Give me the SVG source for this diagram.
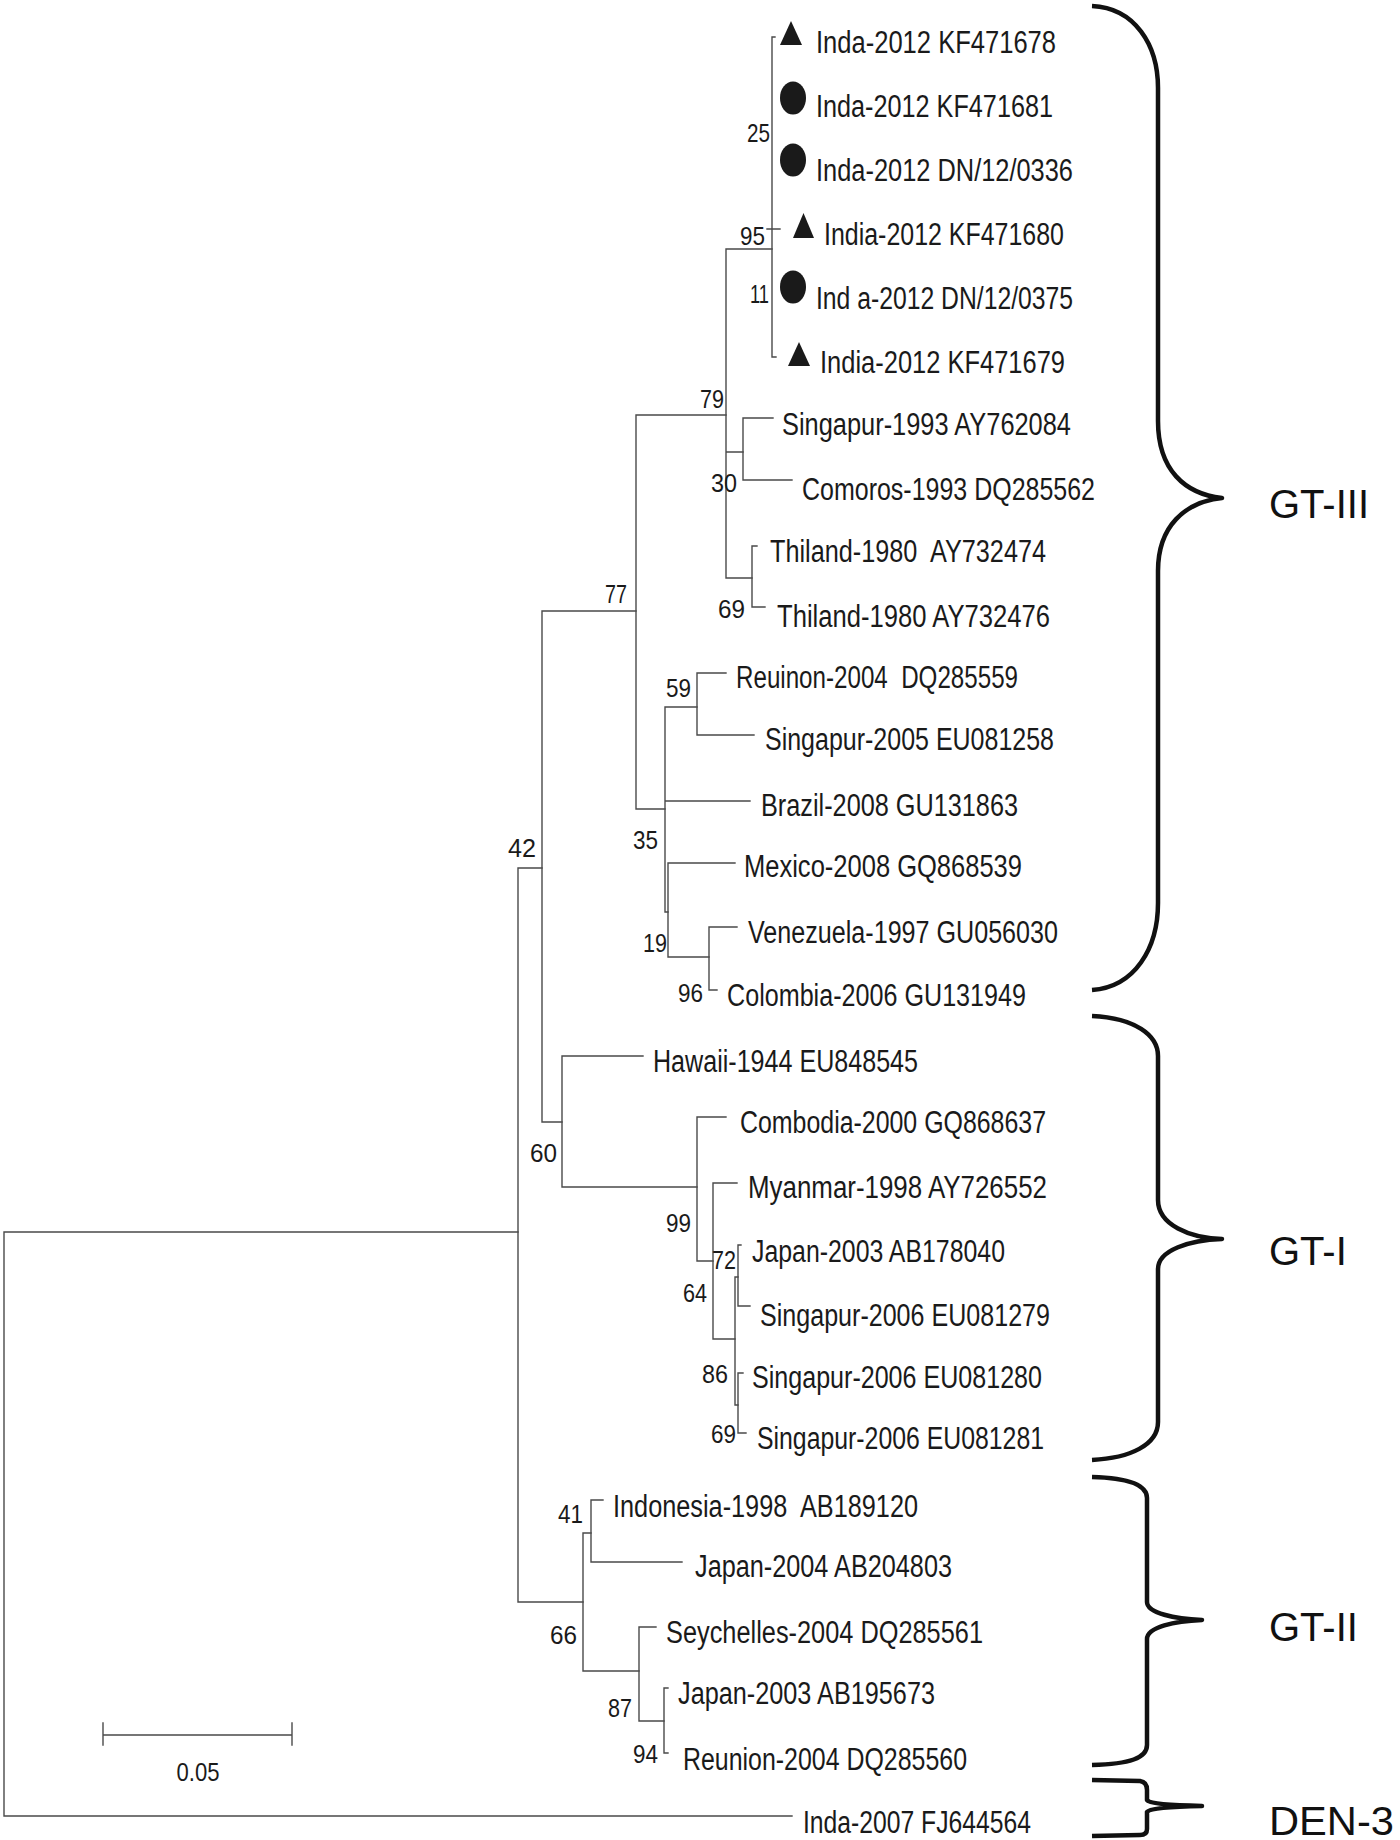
<svg xmlns="http://www.w3.org/2000/svg" width="1400" height="1840" viewBox="0 0 1400 1840">
<defs>
<style>
.br{stroke:#4a4a4a;stroke-width:1.4;fill:none;stroke-linecap:square}
.lbl{font-family:"Liberation Sans",Arial,sans-serif;font-size:31px;fill:#1a1a1a}
.bs{font-family:"Liberation Sans",Arial,sans-serif;font-size:25px;fill:#1a1a1a}
.gt{font-family:"Liberation Sans",Arial,sans-serif;font-size:40px;fill:#111}
.brace{stroke:#111;stroke-width:4.5;fill:none;stroke-linejoin:round}
.mk{fill:#1a1a1a}
</style>
</defs>
<rect width="1400" height="1840" fill="#fff"/>
<g id="connectors" class="br">
<path d="M4,1232 V1816 M4,1232 H518 M4,1816 H792"/>
<path d="M518,868 V1602 M518,868 H542 M518,1602 H583"/>
<path d="M542,611 V1122 M542,611 H636 M542,1122 H562"/>
<path d="M636,415 V809 M636,415 H726 M636,809 H665"/>
<path d="M726,249 V578 M726,249 H772 M726,452 H743 M726,578 H752"/>
<path d="M772,37 V357 M772,37 H775 M767,229 H780 M772,357 H776"/>
<path d="M743,418 V480 M743,418 H773 M743,480 H792"/>
<path d="M752,546 V607 M752,546 H757 M752,607 H765"/>
<path d="M665,707 V912 M665,707 H697 M665,801 H750 M665,912 H668"/>
<path d="M697,673 V735 M697,673 H726 M697,735 H754"/>
<path d="M668,863 V957 M668,863 H735 M668,957 H709"/>
<path d="M709,927 V990 M709,927 H737 M709,990 H717"/>
<path d="M562,1056 V1187 M562,1056 H643 M562,1187 H697"/>
<path d="M697,1117 V1261 M697,1117 H726 M697,1261 H713"/>
<path d="M713,1183 V1339 M713,1183 H737 M713,1339 H735"/>
<path d="M735,1277 V1405 M735,1277 H738 M735,1405 H738"/>
<path d="M738,1245 V1306 M738,1245 H741 M738,1306 H750"/>
<path d="M738,1373 V1433 M738,1373 H743 M738,1433 H746"/>
<path d="M583,1533 V1671 M583,1533 H591 M583,1671 H639"/>
<path d="M591,1500 V1562 M591,1500 H603 M591,1562 H682"/>
<path d="M639,1627 V1721 M639,1627 H656 M639,1721 H664"/>
<path d="M664,1688 V1753 M664,1688 H668 M664,1753 H668"/>
</g>
<g id="bootstrap">
<text class="bs" x="747" y="142" textLength="23" lengthAdjust="spacingAndGlyphs">25</text>
<text class="bs" x="740" y="245" textLength="25" lengthAdjust="spacingAndGlyphs">95</text>
<text class="bs" x="750" y="303" textLength="19" lengthAdjust="spacingAndGlyphs">11</text>
<text class="bs" x="700" y="408" textLength="24" lengthAdjust="spacingAndGlyphs">79</text>
<text class="bs" x="711" y="492" textLength="26" lengthAdjust="spacingAndGlyphs">30</text>
<text class="bs" x="718" y="618" textLength="27" lengthAdjust="spacingAndGlyphs">69</text>
<text class="bs" x="605" y="603" textLength="22" lengthAdjust="spacingAndGlyphs">77</text>
<text class="bs" x="666" y="697" textLength="25" lengthAdjust="spacingAndGlyphs">59</text>
<text class="bs" x="633" y="849" textLength="25" lengthAdjust="spacingAndGlyphs">35</text>
<text class="bs" x="508" y="857" textLength="28" lengthAdjust="spacingAndGlyphs">42</text>
<text class="bs" x="643" y="952" textLength="24" lengthAdjust="spacingAndGlyphs">19</text>
<text class="bs" x="678" y="1002" textLength="25" lengthAdjust="spacingAndGlyphs">96</text>
<text class="bs" x="530" y="1162" textLength="27" lengthAdjust="spacingAndGlyphs">60</text>
<text class="bs" x="666" y="1232" textLength="25" lengthAdjust="spacingAndGlyphs">99</text>
<text class="bs" x="712" y="1269" textLength="24" lengthAdjust="spacingAndGlyphs">72</text>
<text class="bs" x="683" y="1302" textLength="24" lengthAdjust="spacingAndGlyphs">64</text>
<text class="bs" x="702" y="1383" textLength="26" lengthAdjust="spacingAndGlyphs">86</text>
<text class="bs" x="711" y="1443" textLength="25" lengthAdjust="spacingAndGlyphs">69</text>
<text class="bs" x="558" y="1523" textLength="25" lengthAdjust="spacingAndGlyphs">41</text>
<text class="bs" x="550" y="1644" textLength="27" lengthAdjust="spacingAndGlyphs">66</text>
<text class="bs" x="608" y="1717" textLength="24" lengthAdjust="spacingAndGlyphs">87</text>
<text class="bs" x="633" y="1763" textLength="25" lengthAdjust="spacingAndGlyphs">94</text>
</g>
<g id="leaf-01"><polygon class="mk" points="791,21 802,45 780,45"/><text class="lbl" x="816" y="53" textLength="240" lengthAdjust="spacingAndGlyphs">Inda-2012 KF471678</text></g>
<g id="leaf-02"><ellipse class="mk" cx="793" cy="98" rx="13" ry="16.5"/><text class="lbl" x="816" y="117" textLength="237" lengthAdjust="spacingAndGlyphs">Inda-2012 KF471681</text></g>
<g id="leaf-03"><ellipse class="mk" cx="793" cy="160" rx="13" ry="16.5"/><text class="lbl" x="816" y="181" textLength="257" lengthAdjust="spacingAndGlyphs">Inda-2012 DN/12/0336</text></g>
<g id="leaf-04"><polygon class="mk" points="803.5,213 814,238 793,238"/><text class="lbl" x="824" y="245" textLength="240" lengthAdjust="spacingAndGlyphs">India-2012 KF471680</text></g>
<g id="leaf-05"><ellipse class="mk" cx="793" cy="287" rx="13" ry="16.5"/><text class="lbl" x="816" y="309" textLength="257" lengthAdjust="spacingAndGlyphs">Ind a-2012 DN/12/0375</text></g>
<g id="leaf-06"><polygon class="mk" points="799,342 810,366 788,366"/><text class="lbl" x="820" y="373" textLength="245" lengthAdjust="spacingAndGlyphs">India-2012 KF471679</text></g>
<g id="leaf-07"><text class="lbl" x="782" y="435" textLength="289" lengthAdjust="spacingAndGlyphs">Singapur-1993 AY762084</text></g>
<g id="leaf-08"><text class="lbl" x="802" y="500" textLength="293" lengthAdjust="spacingAndGlyphs">Comoros-1993 DQ285562</text></g>
<g id="leaf-09"><text class="lbl" x="770" y="562" textLength="276" lengthAdjust="spacingAndGlyphs" xml:space="preserve">Thiland-1980  AY732474</text></g>
<g id="leaf-10"><text class="lbl" x="777" y="627" textLength="273" lengthAdjust="spacingAndGlyphs">Thiland-1980 AY732476</text></g>
<g id="leaf-11"><text class="lbl" x="736" y="688" textLength="282" lengthAdjust="spacingAndGlyphs" xml:space="preserve">Reuinon-2004  DQ285559</text></g>
<g id="leaf-12"><text class="lbl" x="765" y="750" textLength="289" lengthAdjust="spacingAndGlyphs">Singapur-2005 EU081258</text></g>
<g id="leaf-13"><text class="lbl" x="761" y="816" textLength="257" lengthAdjust="spacingAndGlyphs">Brazil-2008 GU131863</text></g>
<g id="leaf-14"><text class="lbl" x="744" y="877" textLength="278" lengthAdjust="spacingAndGlyphs">Mexico-2008 GQ868539</text></g>
<g id="leaf-15"><text class="lbl" x="748" y="943" textLength="310" lengthAdjust="spacingAndGlyphs">Venezuela-1997 GU056030</text></g>
<g id="leaf-16"><text class="lbl" x="727" y="1006" textLength="299" lengthAdjust="spacingAndGlyphs">Colombia-2006 GU131949</text></g>
<g id="leaf-17"><text class="lbl" x="653" y="1072" textLength="265" lengthAdjust="spacingAndGlyphs">Hawaii-1944 EU848545</text></g>
<g id="leaf-18"><text class="lbl" x="740" y="1133" textLength="306" lengthAdjust="spacingAndGlyphs">Combodia-2000 GQ868637</text></g>
<g id="leaf-19"><text class="lbl" x="748" y="1198" textLength="299" lengthAdjust="spacingAndGlyphs">Myanmar-1998 AY726552</text></g>
<g id="leaf-20"><text class="lbl" x="752" y="1262" textLength="253" lengthAdjust="spacingAndGlyphs">Japan-2003 AB178040</text></g>
<g id="leaf-21"><text class="lbl" x="760" y="1326" textLength="290" lengthAdjust="spacingAndGlyphs">Singapur-2006 EU081279</text></g>
<g id="leaf-22"><text class="lbl" x="752" y="1388" textLength="290" lengthAdjust="spacingAndGlyphs">Singapur-2006 EU081280</text></g>
<g id="leaf-23"><text class="lbl" x="757" y="1449" textLength="287" lengthAdjust="spacingAndGlyphs">Singapur-2006 EU081281</text></g>
<g id="leaf-24"><text class="lbl" x="613" y="1517" textLength="305" lengthAdjust="spacingAndGlyphs" xml:space="preserve">Indonesia-1998  AB189120</text></g>
<g id="leaf-25"><text class="lbl" x="695" y="1577" textLength="257" lengthAdjust="spacingAndGlyphs">Japan-2004 AB204803</text></g>
<g id="leaf-26"><text class="lbl" x="666" y="1643" textLength="317" lengthAdjust="spacingAndGlyphs">Seychelles-2004 DQ285561</text></g>
<g id="leaf-27"><text class="lbl" x="678" y="1704" textLength="257" lengthAdjust="spacingAndGlyphs">Japan-2003 AB195673</text></g>
<g id="leaf-28"><text class="lbl" x="683" y="1770" textLength="284" lengthAdjust="spacingAndGlyphs">Reunion-2004 DQ285560</text></g>
<g id="leaf-29"><text class="lbl" x="803" y="1833" textLength="228" lengthAdjust="spacingAndGlyphs">Inda-2007 FJ644564</text></g>
<g id="scale-bar">
<path class="br" d="M103,1735 H292 M103,1723 V1745 M292,1723 V1745"/>
<text class="bs" x="198" y="1781" text-anchor="middle" textLength="43" lengthAdjust="spacingAndGlyphs" style="font-size:26px">0.05</text>
</g>
<g id="group-GT-III">
<path class="brace" d="M1092,6 C1135,8 1158,45 1158,88 L1158,421 C1158,470 1185,494 1222,498 C1185,502 1158,526 1158,571 L1158,903 C1158,948 1135,987 1092,990"/>
<text class="gt" x="1269" y="518">GT-III</text>
</g>
<g id="group-GT-I">
<path class="brace" d="M1092,1016 C1135,1018 1158,1035 1158,1056 L1158,1200 C1158,1225 1190,1238 1222,1239 C1190,1240 1158,1250 1158,1269 L1158,1422 C1158,1445 1130,1458 1092,1460"/>
<text class="gt" x="1269" y="1265">GT-I</text>
</g>
<g id="group-GT-II">
<path class="brace" d="M1092,1477 C1130,1478 1147,1485 1147,1498 L1147,1602 C1147,1613 1175,1619 1202,1620 C1175,1621 1147,1627 1147,1639 L1147,1745 C1147,1758 1130,1764 1092,1765"/>
<text class="gt" x="1269" y="1641">GT-II</text>
</g>
<g id="group-DEN-3">
<path class="brace" d="M1092,1780 L1140,1781 Q1147,1782 1147,1790 L1147,1800 Q1150,1805 1202,1806 Q1150,1807 1147,1812 L1147,1829 Q1147,1835 1140,1835 L1092,1836"/>
<text class="gt" x="1269" y="1835" textLength="125" lengthAdjust="spacingAndGlyphs">DEN-3</text>
</g>
</svg>
